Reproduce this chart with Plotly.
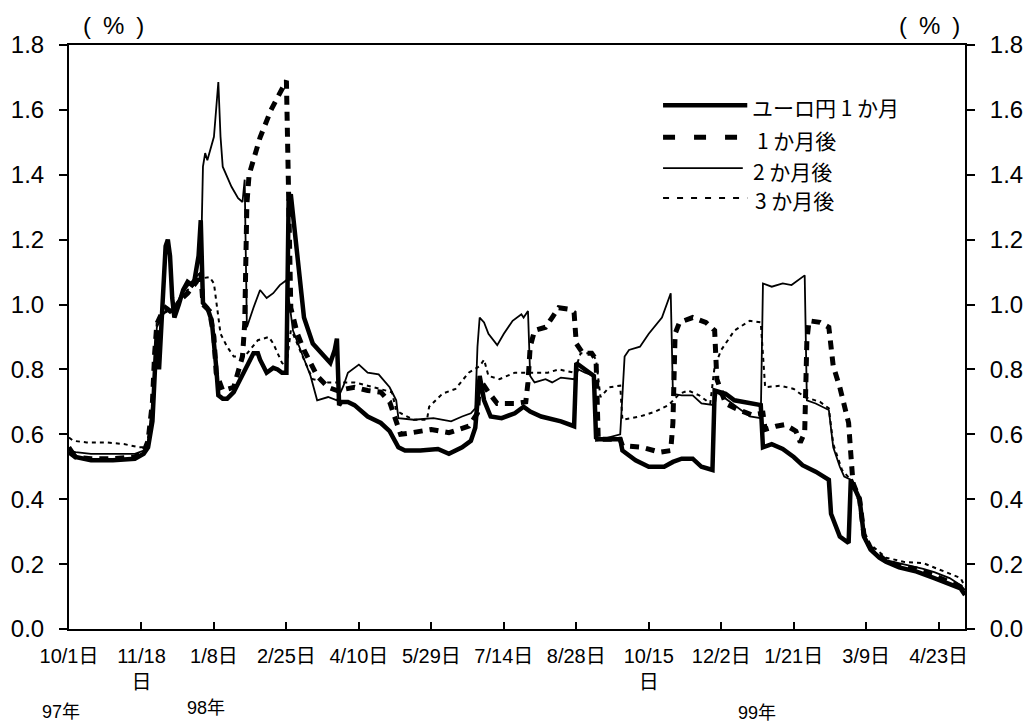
import plotly.graph_objects as go

# x = business-day index from 10/1/97 (tick every 33 days)
tick_index = [0, 33, 66, 99, 132, 165, 198, 231, 264, 297, 330, 363, 396]
tick_labels = ["10/1日", "11/18<br>日", "1/8日", "2/25日", "4/10日", "5/29日", "7/14日",
               "8/28日", "10/15<br>日", "12/2日", "1/21日", "3/9日", "4/23日"]
year_labels = ["97年", "98年", "99年"]
series_names = ["ユーロ円 1 か月", "1 か月後", "2 か月後", "3 か月後"]

euro_1m = [(0,0.56),(3,0.53),(10,0.52),(20,0.52),(30,0.525),(34,0.54),(36,0.56),(37,0.60),(38,0.64),
    (39,0.78),(40,0.92),(41,0.80),(42,0.95),(43,1.10),(44,1.18),(45,1.20),(46,1.15),(47,1.02),(48,0.96),
    (50,1.00),(52,1.045),(54,1.07),(56,1.06),(57,1.07),(59,1.15),(60,1.26),(61,1.005),(63,0.99),(65,0.95),
    (67,0.81),(68,0.72),(70,0.71),(72,0.71),(75,0.73),(78,0.77),(80,0.80),(84,0.85),(86,0.85),(87,0.83),
    (90,0.79),(93,0.805),(95,0.80),(97,0.79),(99,0.79),(100,1.32),(101,1.34),(103,1.22),(104,1.14),
    (107,0.96),(111,0.88),(116,0.84),(119,0.82),(121,0.86),(122,0.895),(123,0.69),(124,0.70),(127,0.70),
    (130,0.69),(136,0.655),(142,0.635),(146,0.61),(149,0.57),(150,0.56),(153,0.55),(160,0.55),(168,0.555),
    (173,0.54),(179,0.56),(183,0.58),(185,0.62),(186,0.70),(187,0.78),(189,0.705),(192,0.655),(197,0.65),
    (203,0.665),(207,0.685),(210,0.67),(215,0.655),(224,0.64),(230,0.625),(231,0.82),(235,0.80),(239,0.78),
    (240,0.59),(241,0.585),(251,0.585),(252,0.55),(258,0.52),(262,0.505),(264,0.50),(271,0.50),(275,0.515),
    (279,0.525),(284,0.525),(288,0.50),(293,0.49),(294,0.735),(299,0.725),(303,0.705),(310,0.695),(315,0.69),
    (316,0.56),(320,0.57),(325,0.555),(330,0.53),(334,0.505),(340,0.485),(346,0.46),(347,0.355),(351,0.285),
    (355,0.265),(356,0.46),(358,0.43),(360,0.40),(362,0.285),(365,0.245),(369,0.22),(372,0.207),(378,0.19),
    (386,0.177),(394,0.157),(403,0.135),(406,0.125),(408,0.105)]

fwd_1m = [(0,0.545),(3,0.53),(10,0.525),(20,0.525),(30,0.53),(34,0.545),(36,0.58),(38,0.70),(39,0.85),
    (40,0.94),(42,0.97),(44,0.99),(46,0.98),(48,0.97),(50,1.01),(54,1.035),(58,1.07),(60,1.10),(61,1.0),
    (64,0.98),(66,0.90),(67,0.79),(70,0.735),(75,0.745),(79,0.84),(80,0.94),(81,1.31),(82,1.40),(87,1.515),
    (92,1.60),(99,1.69),(100,1.32),(101,0.99),(104,0.91),(107,0.86),(113,0.78),(118,0.745),(122,0.735),
    (130,0.745),(136,0.735),(142,0.73),(146,0.70),(149,0.645),(151,0.60),(156,0.605),(165,0.615),(173,0.605),
    (182,0.625),(186,0.665),(187,0.77),(191,0.73),(195,0.695),(203,0.695),(208,0.70),(209,0.76),(210,0.87),
    (212,0.92),(217,0.93),(220,0.96),(223,0.99),(228,0.985),(230,0.975),(231,0.88),(234,0.85),(238,0.85),
    (240,0.83),(241,0.585),(251,0.585),(252,0.565),(261,0.56),(269,0.545),(274,0.55),(275,0.635),(276,0.91),
    (278,0.945),(284,0.96),(290,0.945),(294,0.92),(295,0.77),(299,0.695),(305,0.675),(311,0.66),(316,0.665),
    (317,0.615),(322,0.625),(326,0.63),(331,0.61),(333,0.575),(335,0.605),(336,0.89),(337,0.95),(342,0.945),
    (346,0.93),(347,0.88),(348,0.81),(351,0.745),(353,0.685),(355,0.635),(356,0.54),(357,0.45),(360,0.40),
    (362,0.29),(365,0.25),(369,0.225),(372,0.21),(378,0.195),(386,0.185),(394,0.165),(403,0.14),(406,0.13),
    (408,0.115)]

fwd_2m = [(0,0.55),(3,0.545),(10,0.54),(20,0.54),(30,0.54),(34,0.55),(36,0.58),(38,0.70),(39,0.82),
    (40,0.93),(42,0.96),(45,0.99),(47,0.975),(51,1.03),(55,1.065),(58,1.085),(60,1.10),(61,1.425),(62,1.467),
    (63,1.445),(66,1.517),(68,1.686),(69,1.517),(70,1.425),(74,1.363),(77,1.328),(79,1.316),(80,1.385),
    (81,0.93),(84,0.99),(87,1.045),(90,1.02),(93,1.035),(96,1.06),(99,1.075),(102,0.92),(106,0.85),(110,0.78),
    (113,0.705),(118,0.715),(122,0.705),(125,0.75),(127,0.79),(132,0.815),(136,0.79),(141,0.785),(146,0.745),
    (149,0.705),(150,0.65),(157,0.645),(166,0.65),(174,0.64),(179,0.655),(183,0.665),(185,0.68),(186,0.87),
    (187,0.96),(189,0.945),(191,0.91),(195,0.875),(198,0.91),(202,0.95),(206,0.97),(207,0.96),(209,0.98),
    (210,0.78),(212,0.76),(217,0.77),(220,0.76),(224,0.775),(230,0.77),(232,0.80),(235,0.79),(239,0.78),
    (240,0.58),(251,0.60),(253,0.84),(255,0.86),(260,0.87),(264,0.91),(270,0.96),(273,1.015),(274,1.035),
    (275,0.725),(279,0.72),(284,0.72),(288,0.695),(294,0.69),(295,0.73),(302,0.695),(310,0.655),(315,0.65),
    (316,1.065),(320,1.055),(325,1.065),(329,1.06),(335,1.09),(336,0.705),(340,0.695),(346,0.675),(348,0.56),
    (351,0.50),(353,0.47),(356,0.46),(358,0.44),(360,0.40),(362,0.29),(365,0.25),(369,0.225),(372,0.212),
    (380,0.20),(389,0.185),(394,0.175),(401,0.157),(406,0.135),(408,0.12)]

fwd_3m = [(0,0.59),(2,0.58),(8,0.575),(17,0.575),(25,0.57),(32,0.56),(35,0.56),(37,0.62),(39,0.80),
    (40,0.95),(42,0.97),(45,0.98),(47,0.985),(52,1.035),(56,1.055),(60,1.08),(64,1.085),(66,1.065),(69,0.91),
    (72,0.87),(75,0.84),(80,0.84),(86,0.89),(91,0.90),(93,0.88),(97,0.82),(99,0.81),(101,0.92),(102,0.91),
    (107,0.83),(111,0.77),(118,0.76),(124,0.76),(130,0.76),(136,0.75),(142,0.74),(147,0.73),(149,0.675),
    (151,0.665),(157,0.645),(163,0.645),(164,0.685),(170,0.725),(176,0.74),(182,0.79),(187,0.81),(189,0.83),
    (191,0.78),(196,0.77),(203,0.79),(211,0.79),(218,0.79),(223,0.80),(230,0.79),(233,0.85),(238,0.85),
    (240,0.83),(242,0.715),(246,0.745),(251,0.75),(252,0.645),(260,0.655),(267,0.67),(273,0.69),(278,0.725),
    (282,0.735),(287,0.72),(292,0.695),(294,0.81),(297,0.86),(303,0.92),(310,0.95),(315,0.945),(317,0.745),
    (324,0.75),(330,0.74),(335,0.715),(342,0.70),(346,0.68),(348,0.57),(352,0.49),(356,0.46),(360,0.40),
    (362,0.30),(365,0.26),(372,0.22),(380,0.207),(389,0.203),(399,0.176),(406,0.157),(408,0.13)]

FONT = "Liberation Sans, Noto Sans CJK JP, sans-serif"
JFONT = "Noto Sans CJK JP, sans-serif"

styles = {
    "ユーロ円 1 か月": dict(color="black", width=4.5, dash="solid"),
    "1 か月後": dict(color="black", width=5, dash="9px,7px"),
    "2 か月後": dict(color="black", width=1.8, dash="solid"),
    "3 か月後": dict(color="black", width=2, dash="4px,4px"),
}
series = {
    "ユーロ円 1 か月": euro_1m,
    "1 か月後": fwd_1m,
    "2 か月後": fwd_2m,
    "3 か月後": fwd_3m,
}

fig = go.Figure()
for name in ["3 か月後", "2 か月後", "1 か月後", "ユーロ円 1 か月"]:
    pts = series[name]
    fig.add_trace(go.Scatter(x=[p[0] for p in pts], y=[p[1] for p in pts], mode="lines",
                             name=name, line=styles[name], showlegend=False, hoverinfo="skip"))
# dummy trace to activate right axis
fig.add_trace(go.Scatter(x=[None], y=[None], yaxis="y2", showlegend=False, hoverinfo="skip"))

axis_common = dict(showgrid=False, zeroline=False, showline=True, linecolor="black", linewidth=2,
                   tickcolor="black", tickwidth=2, automargin=False)
fig.update_layout(
    width=1016, height=718,
    margin=dict(l=61, r=59, t=37, b=97),
    paper_bgcolor="white", plot_bgcolor="white",
    xaxis=dict(range=[0, 408], tickmode="array", tickvals=tick_index, ticktext=tick_labels,
               ticks="inside", ticklen=7, mirror=True,
               tickfont=dict(family=FONT, size=20, color="black"), ticklabelstandoff=8,
               **axis_common),
    yaxis=dict(range=[0, 1.8], dtick=0.2, tickformat=".1f", ticks="outside", ticklen=8,
               tickfont=dict(family=FONT, size=24, color="black"), ticklabelstandoff=10,
               **axis_common),
    yaxis2=dict(range=[0, 1.8], dtick=0.2, tickformat=".1f", ticks="outside", ticklen=8,
                overlaying="y", side="right", anchor="x",
                tickfont=dict(family=FONT, size=24, color="black"), ticklabelstandoff=10,
                **axis_common),
)

annotations = [
    dict(text="(\u2002%\u2002)", x=0.05, y=1.034),
    dict(text="(\u2002%\u2002)", x=0.96, y=1.034),
    dict(text=year_labels[0], x=-0.009, y=-0.142, size=18),
    dict(text=year_labels[1], x=0.153, y=-0.135, size=18),
    dict(text=year_labels[2], x=0.768, y=-0.144, size=18),
]
for a in annotations:
    fig.add_annotation(text=a["text"], x=a["x"], y=a["y"], xref="paper", yref="paper",
                       xanchor="center", yanchor="middle", showarrow=False,
                       font=dict(family=FONT, size=a.get("size", 24), color="black"))

# legend drawn manually to match the long line samples
legend_rows = [
    ("ユーロ円 1 か月", 0.897, 0.757, 0.760, None),
    ("1 か月後", 0.842, 0.746, 0.766, "12px,19px"),
    ("2 か月後", 0.789, 0.752, 0.761, None),
    ("3 か月後", 0.738, 0.757, 0.763, "6px,8px"),
]
for name, yy, x1, xt, dash in legend_rows:
    st = styles[name]
    fig.add_shape(type="line", xref="paper", yref="paper", x0=0.663, x1=x1, y0=yy, y1=yy,
                  line=dict(color="black", width=st["width"], dash=dash if dash else "solid"))
    fig.add_annotation(text=name, x=xt, y=yy - 0.004, xref="paper", yref="paper",
                       xanchor="left", yanchor="middle", showarrow=False,
                       font=dict(family=JFONT, size=21, color="black"))

fig.write_html("out.html")
